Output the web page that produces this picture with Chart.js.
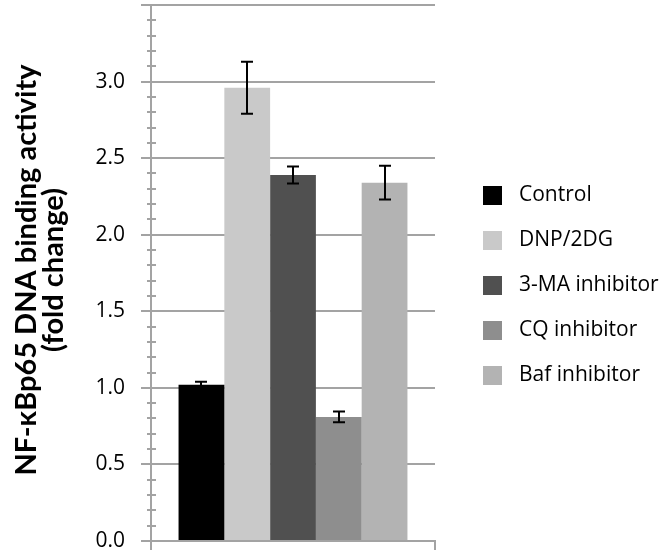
<!DOCTYPE html>
<html><head><meta charset="utf-8">
<script src="https://cdn.jsdelivr.net/npm/chart.js@4/dist/chart.umd.min.js"></script>
<style>html,body{margin:0;padding:0;background:#fff}#wrap{width:666px;height:555px;position:relative}</style>
</head><body><div id="wrap"><canvas id="c" width="666" height="555"></canvas></div>
<script>
const categories = [''];
const seriesNames = ['Control', 'DNP/2DG', '3-MA inhibitor', 'CQ inhibitor', 'Baf inhibitor'];
const seriesValues = [1.02, 2.96, 2.39, 0.81, 2.34];
const seriesErrors = [0.02, 0.17, 0.055, 0.035, 0.11];
const seriesColors = ['#000000', '#c9c9c9', '#505050', '#8e8e8e', '#b3b3b3'];
const yTicks = [0, 0.5, 1.0, 1.5, 2.0, 2.5, 3.0, 3.5];
const yMinorStep = 0.1;
const yTitle = ['NF-κBp65 DNA binding activity', '(fold change)'];

const AXIS = '#a3a3a3';

const extras = {
  id: 'extras',
  afterDatasetsDraw(chart) {
    const ctx = chart.ctx, ys = chart.scales.y;
    ctx.save();
    ctx.strokeStyle = '#000';
    ctx.lineWidth = 2;
    chart.data.datasets.forEach((ds, i) => {
      const bar = chart.getDatasetMeta(i).data[0];
      const v = ds.data[0], e = seriesErrors[i];
      const x = Math.round(bar.x);
      const yt = ys.getPixelForValue(v + e), yb = ys.getPixelForValue(v - e);
      ctx.beginPath();
      ctx.moveTo(x, yt); ctx.lineTo(x, yb);
      ctx.moveTo(x - 6, yt); ctx.lineTo(x + 6, yt);
      ctx.moveTo(x - 6, yb); ctx.lineTo(x + 6, yb);
      ctx.stroke();
    });
    ctx.restore();
  },
  afterDraw(chart) {
    const ctx = chart.ctx, ys = chart.scales.y, left = chart.chartArea.left;
    ctx.save();
    // minor ticks
    ctx.strokeStyle = AXIS; ctx.lineWidth = 2;
    const max = yTicks[yTicks.length - 1];
    for (let k = 1; k * yMinorStep < max - 1e-9; k++) {
      const v = k * yMinorStep;
      if (Math.abs(v / 0.5 - Math.round(v / 0.5)) < 1e-6) continue;
      const y = Math.round(ys.getPixelForValue(v));
      ctx.beginPath(); ctx.moveTo(left - 4, y); ctx.lineTo(left + 5, y); ctx.stroke();
    }
    // legend
    ctx.font = '21px "Open Sans"';
    ctx.textBaseline = 'middle';
    ctx.textAlign = 'left';
    chart.data.datasets.forEach((ds, i) => {
      const cy = 195 + 45 * i;
      ctx.fillStyle = ds.backgroundColor;
      ctx.fillRect(483, cy - 9, 19, 19);
      ctx.fillStyle = '#000';
      ctx.fillText(ds.label, 519, cy);
    });
    // y title
    ctx.translate(0, 270);
    ctx.rotate(-Math.PI / 2);
    ctx.font = 'bold 29px Lato';
    ctx.textAlign = 'center';
    ctx.textBaseline = 'alphabetic';
    ctx.fillStyle = '#000';
    ctx.fillText(yTitle[0], 0, 36);
    ctx.fillText(yTitle[1], 0, 63);
    ctx.restore();
  }
};

new Chart(document.getElementById('c'), {
  type: 'bar',
  data: {
    labels: categories,
    datasets: seriesNames.map((n, i) => ({
      label: n,
      data: [seriesValues[i]],
      backgroundColor: seriesColors[i],
      borderWidth: 0,
      categoryPercentage: 0.806,
      barPercentage: 1.0
    }))
  },
  options: {
    responsive: false,
    animation: false,
    devicePixelRatio: 1,
    layout: { padding: { top: 5, right: 231, bottom: 0, left: 0 } },
    plugins: { legend: { display: false }, tooltip: { enabled: false } },
    scales: {
      x: {
        type: 'category',
        grid: { drawOnChartArea: false, drawTicks: true, tickLength: 9, color: AXIS, lineWidth: 2 },
        border: { color: AXIS, width: 2 },
        ticks: { display: false },
        afterFit(s) { s.height = 14; s.paddingLeft = 0; s.paddingRight = 0; }
      },
      y: {
        min: 0, max: 3.5,
        afterBuildTicks(s) { s.ticks = yTicks.map(v => ({ value: v })); },
        ticks: {
          callback: v => (v === 3.5 ? '' : v.toFixed(1)),
          font: { family: 'Open Sans', size: 21 },
          color: '#000',
          padding: 16
        },
        grid: { color: AXIS, lineWidth: 2, tickLength: 10 },
        border: { color: AXIS, width: 2 },
        afterFit(s) { s.width = 151; s.paddingTop = 0; s.paddingBottom = 0; }
      }
    }
  },
  plugins: [extras]
});
</script></body></html>
